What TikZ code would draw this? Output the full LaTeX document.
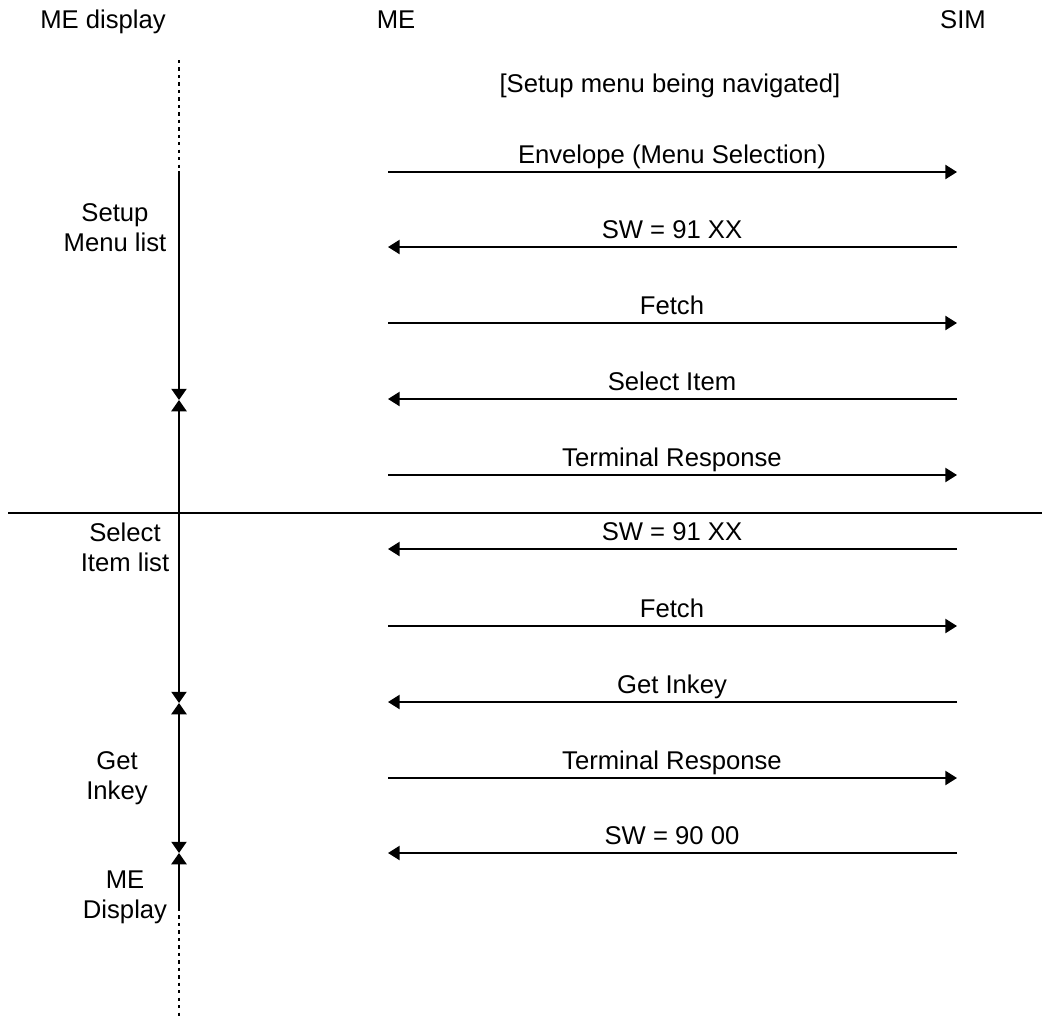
\documentclass[tikz,border=0pt]{standalone}
\usepackage{fontspec}
\setmainfont{Liberation Sans}
\usetikzlibrary{arrows.meta}

\begin{document}
\begin{tikzpicture}[x=0.02cm,y=-0.02cm,
    txt/.style={font=\fontsize{14.6}{17}\selectfont,inner sep=0pt},
    msgarrow/.style={line width=1.1pt,-{Triangle[length=6.6pt,width=8pt]}},
    lifeline/.style={line width=1.1pt},
    dotline/.style={line width=1.4pt,dash pattern=on 1.9pt off 2.35pt},
    bartip/.tip={Triangle[length=6.4pt,width=8.6pt]}]
\useasboundingbox (0,0) rectangle (1042,1018);

% Column titles
\node[txt,anchor=base] (hdisp) at (103,28) {ME display};
\node[txt,anchor=base] (hme) at (396,28) {ME};
\node[txt,anchor=base] (hsim) at (963,28) {SIM};
\node[txt,anchor=base] (note) at (670,92) {[Setup menu being navigated]};

% Messages ME -> SIM
\foreach \y/\t in {172/Envelope (Menu Selection),323/Fetch,475/Terminal Response,626/Fetch,778/Terminal Response} {
    \coordinate (me\y) at (388,\y);
    \coordinate (sim\y) at (957,\y);
    \draw[msgarrow] (me\y) -- (sim\y);
    \node[txt,anchor=base] (m\y) at (672,\y-9) {\t};
}
% Messages SIM -> ME
\foreach \y/\t in {247/SW = 91 XX,399/Select Item,549/SW = 91 XX,702/Get Inkey,853/SW = 90 00} {
    \coordinate (me\y) at (388,\y);
    \coordinate (sim\y) at (957,\y);
    \draw[msgarrow] (sim\y) -- (me\y);
    \node[txt,anchor=base] (m\y) at (672,\y-9) {\t};
}

% ME display time line
\coordinate (d0) at (179,60);
\coordinate (d1) at (179,171);
\coordinate (d2) at (179,400);
\coordinate (d3) at (179,703);
\coordinate (d4) at (179,853);
\coordinate (d5) at (179,908);
\coordinate (d6) at (179,1016);
\draw[dotline] (d0) -- (d1);
\draw[lifeline,-bartip] (d1) -- (d2);
\draw[lifeline,bartip-bartip] (d2) -- (d3);
\draw[lifeline,bartip-bartip] (d3) -- (d4);
\draw[lifeline,bartip-] (d4) -- (d5);
\draw[dotline] (d5) -- (d6);

% Display states
\node[txt,align=center] (setup) at (115,228) {Setup\\Menu list};
\node[txt,align=center] (selitem) at (125,547) {Select\\Item list};
\node[txt,align=center] (inkey) at (117,778) {Get\\Inkey};
\node[txt,align=center] (medisp) at (125,897) {ME\\Display};

% Separator
\coordinate (sepL) at (8,513);
\coordinate (sepR) at (1042,513);
\draw[lifeline] (sepL) -- (sepR);
\end{tikzpicture}
\end{document}
